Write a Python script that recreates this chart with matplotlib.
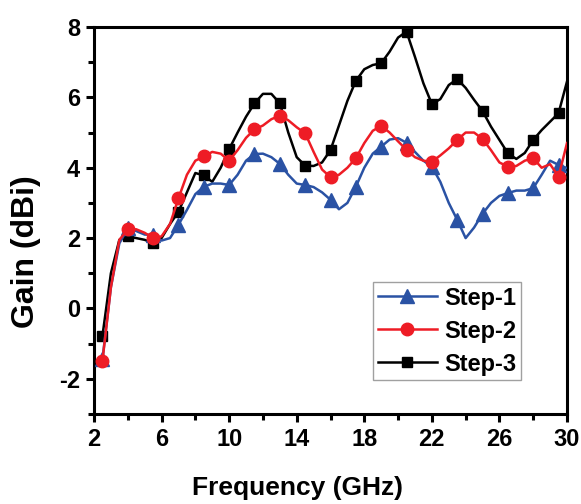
import numpy as np
import matplotlib.pyplot as plt

plt.rcParams['font.family'] = ['Liberation Sans', 'DejaVu Sans']
plt.rcParams['font.weight'] = 'bold'
plt.rcParams['axes.unicode_minus'] = False

# frequency samples (GHz), markers every 1.5 GHz starting at 2.5
freq = np.arange(2.5, 30.01, 0.5)

step1 = [-1.45, 0.6, 1.85, 2.28, 2.2, 2.1, 2.09, 1.93, 2.0, 2.38,
         2.8, 3.25, 3.46, 3.55, 3.55, 3.51, 3.8, 4.2, 4.39, 4.4,
         4.3, 4.11, 3.8, 3.55, 3.51, 3.45, 3.3, 3.09, 2.82, 3.0,
         3.46, 4.0, 4.4, 4.6, 4.8, 4.84, 4.71, 4.45, 4.2, 4.03,
         3.6, 3.0, 2.52, 2.0, 2.3, 2.69, 3.0, 3.2, 3.28, 3.35,
         3.35, 3.42, 3.8, 4.2, 4.08, 3.99]

step2 = [-1.49, 0.6, 1.95, 2.25, 2.25, 2.15, 2.0, 2.05, 2.4, 3.13,
         3.8, 4.2, 4.32, 4.45, 4.4, 4.2, 4.5, 4.85, 5.09, 5.2,
         5.38, 5.48, 5.35, 5.15, 4.98, 4.45, 3.95, 3.73, 3.8, 4.0,
         4.27, 4.7, 5.05, 5.19, 5.0, 4.75, 4.51, 4.3, 4.2, 4.17,
         4.35, 4.55, 4.79, 5.0, 5.0, 4.82, 4.5, 4.15, 4.03, 4.05,
         4.2, 4.27, 4.0, 4.1, 3.75, 4.7]

step3 = [-0.78, 1.0, 1.95, 2.05, 2.0, 1.95, 1.86, 2.0, 2.4, 2.75,
         3.3, 3.85, 3.78, 3.6, 4.0, 4.53, 5.0, 5.45, 5.83, 6.1,
         6.1, 5.83, 5.0, 4.3, 4.06, 4.05, 4.15, 4.5, 5.2, 5.9,
         6.47, 6.8, 6.92, 6.97, 7.3, 7.7, 7.87, 7.15, 6.4, 5.81,
         5.95, 6.35, 6.52, 6.27, 5.93, 5.61, 5.17, 4.79, 4.41, 4.25,
         4.42, 4.79, 5.07, 5.31, 5.55, 6.45]

fig = plt.figure(figsize=(5.81, 5.04), dpi=100)
ax = fig.add_axes([0.1618, 0.1786, 0.8141, 0.7678])

ax.plot(freq, step3, color='black', lw=1.8, marker='s', ms=7.5,
        markevery=3, label='Step-3', zorder=2)
ax.plot(freq, step1, color='#2a52a4', lw=1.8, marker='^', ms=9.5,
        markevery=3, label='Step-1', zorder=3)
ax.plot(freq, step2, color='#ee1c25', lw=1.8, marker='o', ms=9,
        markevery=3, label='Step-2', zorder=4)

ax.set_xlim(2, 30)
ax.set_ylim(-3, 8)
ax.set_xticks(np.arange(2, 31, 4))
ax.set_xticks(np.arange(2, 31, 2), minor=True)
ax.set_yticks(np.arange(-2, 9, 2))
ax.set_yticks(np.arange(-3, 9, 1), minor=True)

for s in ax.spines.values():
    s.set_linewidth(2.2)
ax.tick_params(which='major', direction='out', length=6, width=2.2,
               labelsize=17, pad=4)
ax.tick_params(which='minor', direction='out', length=4, width=2.2)
for lab in ax.get_xticklabels() + ax.get_yticklabels():
    lab.set_fontweight('bold')

ax.set_xlabel('Frequency (GHz)', fontsize=19, fontweight='bold')
ax.set_ylabel('Gain (dBi)', fontsize=23, fontweight='bold')
ax.xaxis.set_label_coords(0.43, -0.16)
ax.yaxis.set_label_coords(-0.112, 0.42)

h, l = ax.get_legend_handles_labels()
order = [1, 2, 0]
leg = ax.legend([h[i] for i in order], [l[i] for i in order],
                loc='upper left', bbox_to_anchor=(0.59, 0.341),
                borderaxespad=0, fancybox=False,
                handlelength=2.5, handletextpad=0.3, labelspacing=0.42,
                borderpad=0.2, prop={'weight': 'bold', 'size': 17})
leg.get_frame().set_edgecolor('#888888')
leg.get_frame().set_linewidth(1.0)

fig.savefig('out.png', dpi=100)
